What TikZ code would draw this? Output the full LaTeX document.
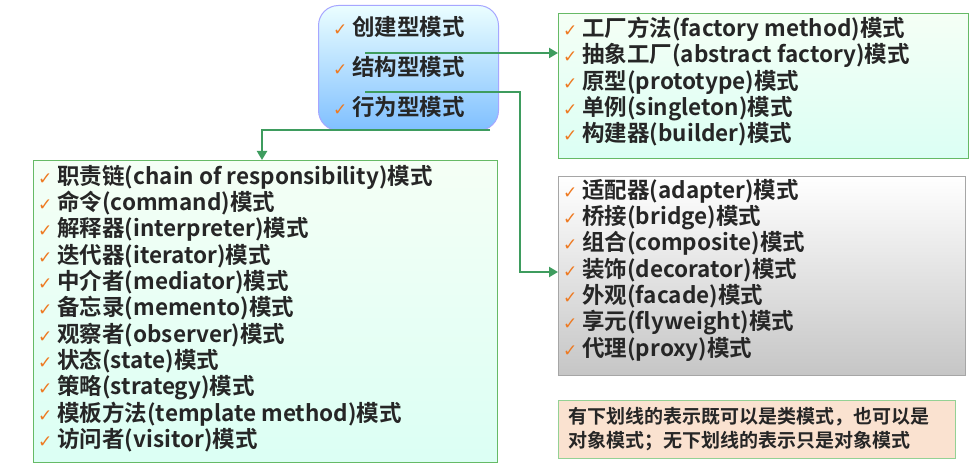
\documentclass[tikz,border=0pt]{standalone}
\usepackage{fontspec}
\setmainfont{Noto Sans CJK SC}[BoldFont={* Bold}]
\newfontfamily\ckfont{DejaVu Sans}
\usetikzlibrary{arrows.meta}
\definecolor{lnk}{HTML}{3E9C5E}
\definecolor{ck}{HTML}{EE7A22}
\newcommand{\ck}{{\color{ck}\ckfont\fontsize{17}{17}\selectfont ✓}\hspace{5pt}}
\tikzset{
 listtxt/.style={anchor=north west,align=left,inner sep=0pt,font=\bfseries\fontsize{22.5}{26.3}\selectfont,text=black!85},
 greenbox/.style={draw=green!55!black!60,top color=green!4,bottom color=green!30!cyan!14!white,line width=1pt},
 conn/.style={draw=lnk,line width=2pt},
 arr/.style={-{Triangle[length=9pt,width=10pt]}}
}
\begin{document}
\begin{tikzpicture}[x=1pt,y=-1pt]
\useasboundingbox (0,0) rectangle (973,470);
\fill[white] (0,0) rectangle (973,470);
% boxes
\node[draw=blue!35,line width=1pt,rounded corners=20pt,top color=blue!5!cyan!8!white,bottom color=cyan!50!blue!50,minimum width=180pt,minimum height=125pt,anchor=north west] (kinds) at (318,5) {};
\node[greenbox,minimum width=410pt,minimum height=145pt,anchor=north west] (cre) at (558,13) {};
\node[greenbox,minimum width=464pt,minimum height=302pt,anchor=north west] (beh) at (33,160) {};
\node[draw=gray!70,line width=1pt,top color=white,bottom color=gray!45,minimum width=407pt,minimum height=199pt,anchor=north west] (str) at (558,176) {};
\node[draw=gray!60!green!60,line width=1.2pt,fill={rgb,255:red,250;green,226;blue,208},minimum width=397pt,minimum height=58pt,anchor=north west] (note) at (558,400) {};
% texts
\node[listtxt,font=\bfseries\fontsize{22.5}{40}\selectfont] (kt) at (333,16) {\ck 创建型模式\\ \ck 结构型模式\\ \ck 行为型模式};
\node[listtxt] (ct) at (563,17) {\ck 工厂方法(factory method)模式\\ \ck 抽象工厂(abstract factory)模式\\ \ck 原型(prototype)模式\\ \ck 单例(singleton)模式\\ \ck 构建器(builder)模式};
\node[listtxt] (bt) at (38,165) {\ck 职责链(chain of responsibility)模式\\ \ck 命令(command)模式\\ \ck 解释器(interpreter)模式\\ \ck 迭代器(iterator)模式\\ \ck 中介者(mediator)模式\\ \ck 备忘录(memento)模式\\ \ck 观察者(observer)模式\\ \ck 状态(state)模式\\ \ck 策略(strategy)模式\\ \ck 模板方法(template method)模式\\ \ck 访问者(visitor)模式};
\node[listtxt] (st) at (563,179) {\ck 适配器(adapter)模式\\ \ck 桥接(bridge)模式\\ \ck 组合(composite)模式\\ \ck 装饰(decorator)模式\\ \ck 外观(facade)模式\\ \ck 享元(flyweight)模式\\ \ck 代理(proxy)模式};
\node[anchor=west,align=left,inner sep=0pt,font=\bfseries\fontsize{19}{24}\selectfont,text=black!85] (nt) at (568,429) {有下划线的表示既可以是类模式，也可以是\\对象模式；无下划线的表示只是对象模式};
% connectors
\coordinate (a1) at (365,53);
\coordinate (a2) at (365,92);
\coordinate (a3) at (490,130);
\draw[conn,arr] (a1) -- (cre.west |- a1);
\draw[conn,arr] (a2) -- (520,92) |- (str.west |- 0,272);
\draw[conn,arr] (a3) -- (262,130) -- (262,160);
\end{tikzpicture}
\end{document}
